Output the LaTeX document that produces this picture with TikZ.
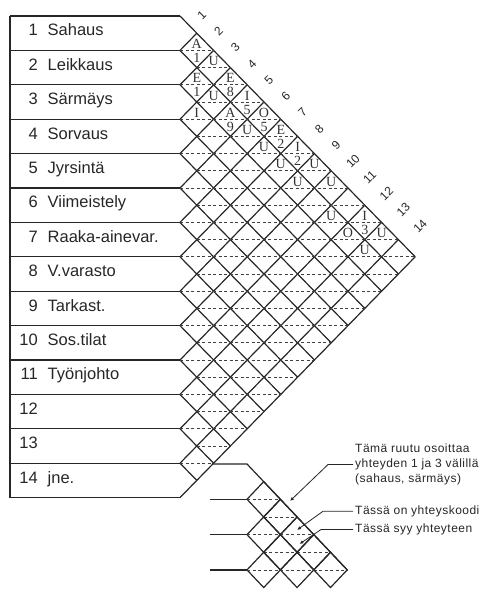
\documentclass[tikz,border=0pt]{standalone}
\usepackage{fontspec}
\setmainfont{Liberation Sans}
\newfontfamily\codefont{Liberation Serif}
\newfontfamily\legfont[LetterSpace=4]{Liberation Sans}
\usetikzlibrary{arrows.meta}
\begin{document}
\begin{tikzpicture}[x=1pt,y=-1pt,
  solidln/.style={line width=1.2pt, black!85, line join=miter},
  dashln/.style={line width=0.8pt, black!75, dash pattern=on 3pt off 2.5pt},
  lbl/.style={font=\fontsize{16.5}{18}\selectfont, inner sep=0pt, text=black!85},
  colnum/.style={font=\fontsize{12}{13}\selectfont, inner sep=0pt, rotate=45, text=black!85},
  code/.style={font=\codefont\fontsize{14}{15}\selectfont, inner sep=0pt, text=black!80},
  note/.style={font=\legfont\fontsize{12}{15}\selectfont, inner sep=0pt, anchor=mid west, text=black!85},
  leader/.style={line width=0.8pt, black!85, -{Latex[length=4pt,width=3.5pt]}},
]
\useasboundingbox (0,0) rectangle (489,590);
% ---------- label boxes ----------
\draw[solidln] (10,16) -- (10,497.6);
\foreach \k in {0,...,14}
  \draw[solidln] (10,{16+\k*34.4}) -- (180,{16+\k*34.4});
% ---------- main diamond grid ----------
\foreach \k in {0,...,13}
  \draw[solidln] (180,{16+\k*34.4}) -- ++({(14-\k)*16.8},{(14-\k)*17.2});
\foreach \k in {1,...,14}
  \draw[solidln] (180,{16+\k*34.4}) -- ++({\k*16.8},{-\k*17.2});
\foreach \m in {2,...,26}{
  \pgfmathsetmacro{\xs}{180+mod(\m,2)*16.8}
  \pgfmathsetmacro{\xe}{180+min(\m,28-\m)*16.8}
  \draw[dashln] (\xs,{16+\m*17.2}) -- (\xe,{16+\m*17.2});
}
% ---------- row labels ----------
\foreach \i in {1,...,14}
  \node[lbl, anchor=mid east] (n\i) at (38,{16+(\i-0.5)*34.4}) {\i};
\foreach \i/\t in {1/Sahaus,2/Leikkaus,3/Särmäys,4/Sorvaus,5/Jyrsintä,6/Viimeistely,7/Raaka-ainevar.,8/V.varasto,9/Tarkast.,10/Sos.tilat,11/Työnjohto,14/jne.}
  \node[lbl, anchor=mid west] (t\i) at (47.5,{16+(\i-0.5)*34.4}) {\t};
% ---------- column numbers ----------
\foreach \k in {1,...,14}
  \node[colnum] (c\k) at ({201.7+(\k-1)*16.8},{15+(\k-1)*16.25}) {\k};
% ---------- codes ----------
\foreach \i/\j/\c in {1/2/A,1/3/U,2/3/E,1/4/E,2/4/U,1/5/I,3/4/I,2/5/A,1/6/O,2/6/U,1/7/E,2/7/U,1/8/I,2/8/U,1/9/U,2/9/U,1/10/U,2/11/U,1/12/I,2/12/O,1/13/U,2/13/U}
  \node[code] (u\i-\j) at ({180+(\j-\i)*16.8},{16+(\i+\j-1)*17.2-6.5}) {\c};
\foreach \i/\j/\c in {1/2/1,2/3/1,1/4/8,1/5/5,2/5/9,1/6/5,1/7/2,1/8/2,1/12/3}
  \node[code] (l\i-\j) at ({180+(\j-\i)*16.8},{16+(\i+\j-1)*17.2+7.5}) {\c};
% ---------- legend grid ----------
\draw[solidln] (212,464) -- (247,464) -- ({247+6*16.7},{464+6*17.65});
\foreach \k in {1,2,3}
  \draw[solidln] (210,{464+\k*35.3}) -- (247,{464+\k*35.3});
\foreach \i/\j in {1/2,1/3,1/4,1/5,1/6,2/3,2/4,2/5,3/4}{
  \pgfmathsetmacro{\cx}{247+(\j-\i)*16.7}
  \pgfmathsetmacro{\cy}{464+(\i+\j-1)*17.65}
  \draw[solidln] ({\cx-16.7},\cy) -- (\cx,{\cy-17.65}) -- ({\cx+16.7},\cy) -- (\cx,{\cy+17.65}) -- cycle;
  \draw[dashln] ({\cx-16.7},\cy) -- ({\cx+16.7},\cy);
}
% ---------- legend notes ----------
\node[note] (na) at (355,450) {Tämä ruutu osoittaa};
\node[note] (nb) at (355,465) {yhteyden 1 ja 3 välillä};
\node[note] (nc) at (355,480) {(sahaus, särmäys)};
\node[note] (nd) at (355,511.7) {Tässä on yhteyskoodi};
\node[note] (ne) at (355,530) {Tässä syy yhteyteen};
\coordinate (tip1) at (290,501);
\coordinate (tip2) at (297,530);
\coordinate (tip3) at (299.5,544);
\draw[leader] ([xshift=-2pt]nb.west) -- ++(-25,0) -- (tip1);
\draw[leader] ([xshift=-2pt]nd.west) -- ++(-30,0) -- (tip2);
\draw[leader] ([xshift=-2pt]ne.west) -- ++(-32,0) -- (tip3);
\end{tikzpicture}
\end{document}
